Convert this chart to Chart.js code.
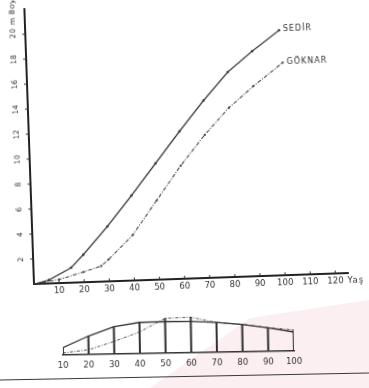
<!DOCTYPE html>
<html>
<head>
<meta charset="utf-8">
<script src="https://cdn.jsdelivr.net/npm/chart.js@4.4.1/dist/chart.umd.min.js"></script>
<style>
    body { margin: 0; background: #fff; width: 369px; height: 388px; overflow: hidden; position: relative; }
    /* the scan is slightly turned, so the canvases are too */
    #growthChart { position: absolute; left: 0; top: 0; transform-origin: 34px 284px; transform: rotate(-2deg); }
    #profileChart { position: absolute; left: 0; top: 300px; transform-origin: 63px 55px; transform: rotate(-1deg); }
    .rule { position: absolute; left: -5px; top: 376px; width: 380px; border-top: 1.5px solid #3a3a3a; transform: rotate(-1.1deg); }
    /* faint pink stamp bleeding through the page */
    .stamp { position: absolute; left: 0; top: 0; width: 369px; height: 388px; background: rgba(235, 165, 175, 0.18);
             clip-path: polygon(150px 388px, 250px 318px, 369px 300px, 369px 388px); }
</style>
</head>
<body>
<div class="stamp"></div>
<canvas id="growthChart" width="369" height="300"></canvas>
<canvas id="profileChart" width="369" height="80"></canvas>
<div class="rule"></div>
<script>
// Height growth: Sedir vs Göknar
const sedirAge = [0, 6, 15, 20, 30, 40, 50, 60, 70, 80, 90, 101];
const sedirHeight = [0, 0.27, 1.2, 2.2, 4.4, 6.8, 9.3, 11.8, 14.2, 16.4, 18.0, 19.6];
const goknarAge = [0, 10, 20, 27, 30, 40, 50, 60, 70, 80, 90, 102];
const goknarHeight = [0, 0.28, 0.83, 1.25, 1.75, 3.65, 6.35, 9.05, 11.45, 13.55, 15.2, 17.0];
const ageTicks = [10, 20, 30, 40, 50, 60, 70, 80, 90, 100, 110, 120];
const heightTicks = [2, 4, 6, 8, 10, 12, 14, 16, 18, 20];
const heightTickLabels = ['2', '4', '6', '8', '10', '12', '14', '16', '18', '20 m Boy'];

// Small stem profile underneath
const profileAge = [10, 20, 30, 40, 50, 60, 70, 80, 90, 100];
const profileSolid = [7, 17.5, 26, 29.6, 30, 29.7, 28.3, 25.9, 22.4, 18];
const profileDashed = [2, 4.5, 12, 20.6, 33, 33.7, 28.3, 26, 22.5, 20];

const ink = '#333';

function toPoints(xs, ys) {
    return xs.map((x, i) => ({ x: x, y: ys[i] }));
}

// Draws tick marks and labels the way the scan has them
const scanLabels = {
    id: 'scanLabels',
    afterDraw(chart, args, opts) {
        const ctx = chart.ctx;
        const xs = chart.scales.x;
        const ys = chart.scales.y;
        const area = chart.chartArea;
        ctx.save();
        ctx.fillStyle = ink;
        ctx.strokeStyle = ink;
        ctx.lineWidth = 1;
        ctx.textBaseline = 'middle';

        // x ticks
        ctx.font = opts.xFont;
        ctx.textAlign = 'center';
        opts.xTicks.forEach(v => {
            const px = xs.getPixelForValue(v);
            ctx.beginPath();
            ctx.moveTo(px, area.bottom);
            ctx.lineTo(px, area.bottom - opts.tickLen);
            ctx.stroke();
            ctx.fillText(String(v), px, area.bottom + opts.xGap);
        });
        if (opts.xTitle) {
            const last = opts.xTicks[opts.xTicks.length - 1];
            const px = xs.getPixelForValue(last) + ctx.measureText(String(last)).width / 2 + 4;
            ctx.textAlign = 'left';
            ctx.letterSpacing = '1px';
            ctx.fillText(opts.xTitle, px, area.bottom + opts.xGap);
            ctx.letterSpacing = '0px';
        }

        // y ticks, rotated labels
        if (opts.yTicks) {
            ctx.font = opts.yFont;
            opts.yTicks.forEach((v, i) => {
                const py = ys.getPixelForValue(v);
                ctx.beginPath();
                ctx.moveTo(area.left, py);
                ctx.lineTo(area.left - opts.tickLen, py);
                ctx.stroke();
                const label = opts.yLabels[i];
                ctx.save();
                ctx.translate(area.left - opts.yGap, py);
                ctx.rotate(-Math.PI / 2);
                if (label.length > 2) {
                    ctx.textAlign = 'left';
                    ctx.letterSpacing = '0.5px';
                    ctx.fillText(label, -4, 0);
                } else {
                    ctx.textAlign = 'center';
                    ctx.fillText(label, 0, 0);
                }
                ctx.restore();
            });
        }

        // series names at the line ends
        if (opts.seriesNames) {
            ctx.font = opts.nameFont;
            ctx.textAlign = 'left';
            ctx.letterSpacing = '1px';
            chart.data.datasets.forEach((ds, i) => {
                const meta = chart.getDatasetMeta(i);
                const end = meta.data[meta.data.length - 1];
                ctx.fillText(ds.label, end.x + 4, end.y - 1);
            });
        }
        ctx.restore();
    }
};

new Chart(document.getElementById('growthChart'), {
    type: 'line',
    data: {
        datasets: [
            {
                label: 'SEDİR',
                data: toPoints(sedirAge, sedirHeight),
                borderColor: '#3a3a3a',
                backgroundColor: '#3a3a3a',
                borderWidth: 1.2,
                pointRadius: 0.7,
                tension: 0
            },
            {
                label: 'GÖKNAR',
                data: toPoints(goknarAge, goknarHeight),
                borderColor: '#4a4a4a',
                backgroundColor: '#4a4a4a',
                borderWidth: 1.1,
                borderDash: [4, 1.5, 1, 1.5],
                pointRadius: 0.6,
                tension: 0
            }
        ]
    },
    options: {
        responsive: false,
        animation: false,
        devicePixelRatio: 1,
        layout: { padding: { left: 34, right: 21, top: 9, bottom: 16 } },
        plugins: {
            legend: { display: false },
            tooltip: { enabled: false },
            scanLabels: {
                xTicks: ageTicks,
                xTitle: 'Yaş',
                xFont: '8.5px "DejaVu Sans"',
                xGap: 8,
                yTicks: heightTicks,
                yLabels: heightTickLabels,
                yFont: '7.5px "DejaVu Sans"',
                yGap: 12,
                tickLen: 3,
                seriesNames: true,
                nameFont: '8px "DejaVu Sans"'
            }
        },
        scales: {
            x: {
                type: 'linear',
                min: 0,
                max: 125,
                grid: { display: false, drawTicks: false },
                border: { display: true, color: '#222', width: 2 },
                ticks: { display: false }
            },
            y: {
                min: 0,
                max: 22,
                grid: { display: false, drawTicks: false },
                border: { display: true, color: '#222', width: 2 },
                ticks: { display: false }
            }
        }
    },
    plugins: [scanLabels]
});

new Chart(document.getElementById('profileChart'), {
    type: 'line',
    data: {
        datasets: [
            {
                type: 'bar',
                label: 'sections',
                data: toPoints(profileAge, profileAge.map((a, i) => Math.max(profileSolid[i], profileDashed[i]))),
                backgroundColor: ink,
                barThickness: 1.4
            },
            {
                label: 'solid',
                data: toPoints(profileAge, profileSolid),
                borderColor: ink,
                borderWidth: 1.3,
                pointRadius: 0,
                tension: 0
            },
            {
                label: 'dashed',
                data: toPoints(profileAge, profileDashed),
                borderColor: '#555',
                borderWidth: 1,
                borderDash: [3, 1.5, 1, 1.5],
                pointRadius: 0,
                tension: 0
            }
        ]
    },
    options: {
        responsive: false,
        animation: false,
        devicePixelRatio: 1,
        layout: { padding: { left: 63, right: 75, top: 17, bottom: 25 } },
        plugins: {
            legend: { display: false },
            tooltip: { enabled: false },
            scanLabels: {
                xTicks: profileAge,
                xFont: '8.5px "DejaVu Sans"',
                xGap: 11,
                tickLen: 0
            }
        },
        scales: {
            x: {
                type: 'linear',
                min: 10,
                max: 100,
                offset: false,
                grid: { display: false, drawTicks: false },
                border: { display: true, color: ink, width: 1.4 },
                ticks: { display: false }
            },
            y: {
                min: 0,
                max: 36,
                grid: { display: false, drawTicks: false },
                border: { display: false },
                ticks: { display: false }
            }
        }
    },
    plugins: [scanLabels]
});
</script>
</body>
</html>
